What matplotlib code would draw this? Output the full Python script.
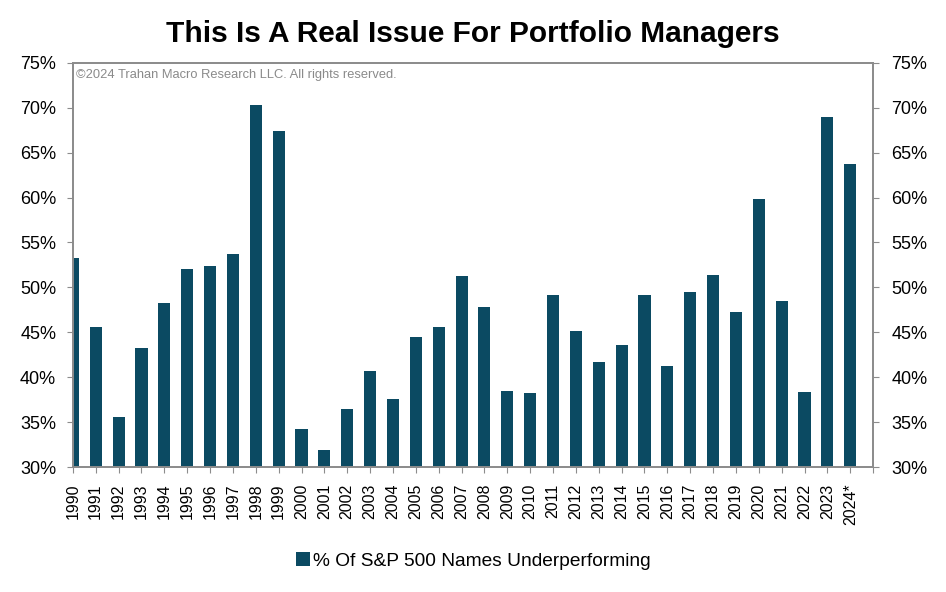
import numpy as np
import matplotlib.pyplot as plt
from matplotlib.ticker import FuncFormatter
from matplotlib import font_manager

plt.rcParams['font.family'] = ['Liberation Sans', 'DejaVu Sans']

years = [str(y) for y in range(1990, 2024)] + ["2024*"]
underperforming = [53.3, 45.6, 35.6, 43.2, 48.3, 52.1, 52.4, 53.7, 70.3, 67.4,
                   34.2, 31.9, 36.5, 40.7, 37.6, 44.5, 45.6, 51.3, 47.8, 38.5,
                   38.2, 49.2, 45.1, 41.7, 43.6, 49.1, 41.2, 49.5, 51.4, 47.3,
                   59.8, 48.5, 38.4, 69.0, 63.7]

bar_color = "#0b4a62"
axis_gray = "#8c8c8c"

names = {f.name for f in font_manager.fontManager.ttflist}
if 'Liberation Sans Narrow' in names:
    title_font = ['Liberation Sans Narrow', 'Liberation Sans']
else:
    title_font = ['Liberation Sans']

fig = plt.figure(figsize=(9.46, 5.92), dpi=100)
ax = fig.add_axes([0.077, 0.211, 0.846, 0.683])

x = np.arange(len(years))
ax.bar(x, underperforming, width=0.53, color=bar_color,
       label="% Of S&P 500 Names Underperforming", zorder=2)

ax.set_xlim(0, len(years))
ax.set_ylim(30, 75)
ax.set_xticks(np.arange(len(years) + 1))
ax.set_xticklabels(years + [""], rotation=90, fontsize=11.5)
ax.set_yticks(np.arange(30, 76, 5))
pct = FuncFormatter(lambda v, p: f"{v:.0f}%")
ax.yaxis.set_major_formatter(pct)
ax.tick_params(axis="y", labelsize=13, length=4, color=axis_gray, pad=8)
ax.tick_params(axis="x", length=4, color=axis_gray, pad=8)

ax2 = ax.twinx()
ax2.set_ylim(30, 75)
ax2.set_yticks(np.arange(30, 76, 5))
ax2.yaxis.set_major_formatter(pct)
ax2.tick_params(axis="y", labelsize=13, length=4, color=axis_gray, pad=9)

for a in (ax, ax2):
    for s in a.spines.values():
        s.set_color(axis_gray)
        s.set_linewidth(1.3)

ax.text(0.004, 0.985, "\u00a92024 Trahan Macro Research LLC. All rights reserved.",
        transform=ax.transAxes, fontsize=9.3, color="#8a8a8a", va="top", ha="left")

fig.suptitle("This Is A Real Issue For Portfolio Managers", fontsize=21.5,
             fontweight="bold", family=title_font, y=0.966)

fig.legend(loc="lower center", bbox_to_anchor=(0.5, 0.008), frameon=False,
           fontsize=13.8, handlelength=0.75, handleheight=0.75, handletextpad=0.15)

fig.savefig("out.png", dpi=100, facecolor="white")
